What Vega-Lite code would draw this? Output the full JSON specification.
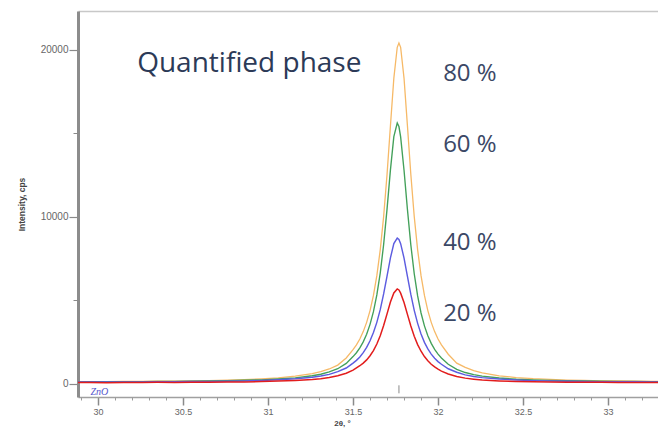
{
  "$schema": "https://vega.github.io/schema/vega-lite/v6.json",
  "width": 580,
  "height": 386,
  "autosize": {"type": "none"},
  "padding": {"left": 78, "top": 11, "right": 0, "bottom": 35},
  "background": "white",
  "config": {
    "view": {"stroke": null},
    "axis": {"labelFont": "Liberation Sans", "titleFont": "Liberation Sans", "grid": false}
  },
  "datasets": {
    "scan": [
      {"two_theta": 29.88, "20 %": 85, "40 %": 118, "60 %": 128, "80 %": 138},
      {"two_theta": 29.95, "20 %": 92, "40 %": 124, "60 %": 131, "80 %": 142},
      {"two_theta": 30.05, "20 %": 80, "40 %": 115, "60 %": 136, "80 %": 145},
      {"two_theta": 30.15, "20 %": 95, "40 %": 126, "60 %": 135, "80 %": 152},
      {"two_theta": 30.26, "20 %": 88, "40 %": 124, "60 %": 143, "80 %": 155},
      {"two_theta": 30.35, "20 %": 98, "40 %": 133, "60 %": 146, "80 %": 168},
      {"two_theta": 30.45, "20 %": 90, "40 %": 131, "60 %": 156, "80 %": 175},
      {"two_theta": 30.55, "20 %": 105, "40 %": 145, "60 %": 162, "80 %": 188},
      {"two_theta": 30.65, "20 %": 100, "40 %": 149, "60 %": 178, "80 %": 200},
      {"two_theta": 30.76, "20 %": 118, "40 %": 166, "60 %": 194, "80 %": 232},
      {"two_theta": 30.86, "20 %": 124, "40 %": 182, "60 %": 220, "80 %": 258},
      {"two_theta": 30.96, "20 %": 146, "40 %": 212, "60 %": 248, "80 %": 303},
      {"two_theta": 31.06, "20 %": 172, "40 %": 250, "60 %": 298, "80 %": 368},
      {"two_theta": 31.16, "20 %": 212, "40 %": 310, "60 %": 366, "80 %": 472},
      {"two_theta": 31.26, "20 %": 262, "40 %": 400, "60 %": 494, "80 %": 618},
      {"two_theta": 31.31, "20 %": 318, "40 %": 474, "60 %": 583, "80 %": 742},
      {"two_theta": 31.36, "20 %": 392, "40 %": 575, "60 %": 720, "80 %": 898},
      {"two_theta": 31.41, "20 %": 492, "40 %": 742, "60 %": 913, "80 %": 1130},
      {"two_theta": 31.46, "20 %": 645, "40 %": 955, "60 %": 1232, "80 %": 1560},
      {"two_theta": 31.5, "20 %": 832, "40 %": 1250, "60 %": 1640, "80 %": 2053},
      {"two_theta": 31.52, "20 %": 962, "40 %": 1415, "60 %": 1870, "80 %": 2341},
      {"two_theta": 31.54, "20 %": 1092, "40 %": 1620, "60 %": 2160, "80 %": 2695},
      {"two_theta": 31.56, "20 %": 1252, "40 %": 1875, "60 %": 2520, "80 %": 3136},
      {"two_theta": 31.58, "20 %": 1442, "40 %": 2190, "60 %": 2980, "80 %": 3689},
      {"two_theta": 31.6, "20 %": 1692, "40 %": 2585, "60 %": 3570, "80 %": 4396},
      {"two_theta": 31.62, "20 %": 2002, "40 %": 3080, "60 %": 4330, "80 %": 5304},
      {"two_theta": 31.64, "20 %": 2392, "40 %": 3690, "60 %": 5330, "80 %": 6486},
      {"two_theta": 31.66, "20 %": 2882, "40 %": 4450, "60 %": 6640, "80 %": 8031},
      {"two_theta": 31.68, "20 %": 3500, "40 %": 5390, "60 %": 8350, "80 %": 10032},
      {"two_theta": 31.7, "20 %": 4200, "40 %": 6460, "60 %": 10470, "80 %": 12546},
      {"two_theta": 31.72, "20 %": 4910, "40 %": 7550, "60 %": 12820, "80 %": 15462},
      {"two_theta": 31.74, "20 %": 5450, "40 %": 8410, "60 %": 14815, "80 %": 18305},
      {"two_theta": 31.76, "20 %": 5690, "40 %": 8740, "60 %": 15630, "80 %": 20162},
      {"two_theta": 31.77, "20 %": 5630, "40 %": 8655, "60 %": 15417, "80 %": 20420},
      {"two_theta": 31.78, "20 %": 5440, "40 %": 8400, "60 %": 14800, "80 %": 20162},
      {"two_theta": 31.8, "20 %": 4880, "40 %": 7540, "60 %": 12800, "80 %": 18305},
      {"two_theta": 31.82, "20 %": 4170, "40 %": 6440, "60 %": 10450, "80 %": 15462},
      {"two_theta": 31.84, "20 %": 3470, "40 %": 5360, "60 %": 8320, "80 %": 12546},
      {"two_theta": 31.86, "20 %": 2860, "40 %": 4410, "60 %": 6600, "80 %": 10032},
      {"two_theta": 31.88, "20 %": 2360, "40 %": 3630, "60 %": 5270, "80 %": 8031},
      {"two_theta": 31.9, "20 %": 1960, "40 %": 2990, "60 %": 4250, "80 %": 6486},
      {"two_theta": 31.92, "20 %": 1640, "40 %": 2490, "60 %": 3480, "80 %": 5304},
      {"two_theta": 31.94, "20 %": 1390, "40 %": 2100, "60 %": 2890, "80 %": 4396},
      {"two_theta": 31.96, "20 %": 1180, "40 %": 1790, "60 %": 2430, "80 %": 3689},
      {"two_theta": 31.98, "20 %": 1020, "40 %": 1540, "60 %": 2070, "80 %": 3136},
      {"two_theta": 32.0, "20 %": 890, "40 %": 1340, "60 %": 1790, "80 %": 2695},
      {"two_theta": 32.02, "20 %": 770, "40 %": 1180, "60 %": 1560, "80 %": 2341},
      {"two_theta": 32.06, "20 %": 600, "40 %": 910, "60 %": 1180, "80 %": 1780},
      {"two_theta": 32.11, "20 %": 450, "40 %": 700, "60 %": 870, "80 %": 1250},
      {"two_theta": 32.16, "20 %": 350, "40 %": 545, "60 %": 685, "80 %": 990},
      {"two_theta": 32.21, "20 %": 290, "40 %": 450, "60 %": 560, "80 %": 800},
      {"two_theta": 32.26, "20 %": 240, "40 %": 380, "60 %": 470, "80 %": 670},
      {"two_theta": 32.36, "20 %": 185, "40 %": 295, "60 %": 355, "80 %": 490},
      {"two_theta": 32.46, "20 %": 150, "40 %": 240, "60 %": 285, "80 %": 385},
      {"two_theta": 32.56, "20 %": 130, "40 %": 202, "60 %": 242, "80 %": 315},
      {"two_theta": 32.66, "20 %": 118, "40 %": 178, "60 %": 212, "80 %": 270},
      {"two_theta": 32.76, "20 %": 110, "40 %": 160, "60 %": 193, "80 %": 235},
      {"two_theta": 32.86, "20 %": 104, "40 %": 150, "60 %": 176, "80 %": 210},
      {"two_theta": 32.96, "20 %": 98, "40 %": 141, "60 %": 164, "80 %": 190},
      {"two_theta": 33.06, "20 %": 95, "40 %": 135, "60 %": 154, "80 %": 178},
      {"two_theta": 33.16, "20 %": 92, "40 %": 130, "60 %": 147, "80 %": 168},
      {"two_theta": 33.26, "20 %": 88, "40 %": 126, "60 %": 141, "80 %": 160},
      {"two_theta": 33.31, "20 %": 90, "40 %": 125, "60 %": 139, "80 %": 158}
    ],
    "phaseLabels": [
      {"phase": "80 %", "two_theta": 32.03, "cps": 18144},
      {"phase": "60 %", "two_theta": 32.03, "cps": 13892},
      {"phase": "40 %", "two_theta": 32.03, "cps": 8024},
      {"phase": "20 %", "two_theta": 32.03, "cps": 3772}
    ],
    "heading": [
      {"text": "Quantified phase", "two_theta": 30.23, "cps": 18683}
    ],
    "refLines": [
      {"phase": "ZnO", "two_theta": 31.77, "label_at": 29.955}
    ]
  },
  "layer": [
    {
      "data": {"name": "scan"},
      "transform": [
        {"fold": ["80 %", "60 %", "40 %", "20 %"], "as": ["phase", "cps"]}
      ],
      "mark": {"type": "line", "interpolate": "linear", "clip": true},
      "encoding": {
        "x": {
          "field": "two_theta",
          "type": "quantitative",
          "scale": {"domain": [29.882, 33.294], "nice": false, "zero": false},
          "axis": {
            "orient": "bottom",
            "values": [30, 30.5, 31, 31.5, 32, 32.5, 33],
            "format": "~g",
            "tickSize": 8,
            "tickWidth": 1.5,
            "tickColor": "#8a8a8a",
            "domainColor": "#a0a0a0",
            "domainWidth": 1.5,
            "labelFontSize": 9,
            "labelColor": "#666666",
            "labelPadding": 2,
            "labelFlush": false,
            "title": "2θ, °",
            "titleFontSize": 8,
            "titleFontWeight": "bold",
            "titleColor": "#444444",
            "titleX": 264,
            "titleY": 26,
            "titleBaseline": "middle"
          }
        },
        "y": {
          "field": "cps",
          "type": "quantitative",
          "scale": {"domain": [-780, 22335], "nice": false, "zero": false},
          "axis": {
            "orient": "left",
            "values": [0, 10000, 20000],
            "format": "d",
            "tickSize": 9,
            "tickWidth": 1.2,
            "tickColor": "#8a8a8a",
            "domainColor": "#8c8c8c",
            "domainWidth": 3,
            "labelFontSize": 10,
            "labelColor": "#666666",
            "labelPadding": 1,
            "title": "Intensity, cps",
            "titleFontSize": 8.5,
            "titleFontWeight": "bold",
            "titleColor": "#444444",
            "titlePadding": 14
          }
        },
        "color": {
          "field": "phase",
          "type": "nominal",
          "scale": {
            "domain": ["80 %", "60 %", "40 %", "20 %"],
            "range": ["#f6b967", "#43a05a", "#5c5ce0", "#e21d1d"]
          },
          "legend": null
        },
        "strokeWidth": {
          "field": "phase",
          "type": "nominal",
          "scale": {
            "domain": ["80 %", "60 %", "40 %", "20 %"],
            "range": [1.3, 1.5, 1.5, 2.2]
          },
          "legend": null
        }
      }
    },
    {
      "mark": {"type": "rule", "color": "#9a9a9a", "strokeWidth": 1},
      "encoding": {"y": {"datum": 0, "axis": null}}
    },
    {
      "data": {"name": "refLines"},
      "mark": {"type": "rule", "color": "#8a8a8a", "strokeWidth": 1},
      "encoding": {
        "x": {
          "field": "two_theta",
          "type": "quantitative",
          "axis": {
            "orient": "bottom",
            "values": [29.9, 30.1, 30.2, 30.3, 30.4, 30.6, 30.7, 30.8, 30.9, 31.1, 31.2, 31.3, 31.4, 31.6, 31.7, 31.8, 31.9, 32.1, 32.2, 32.3, 32.4, 32.6, 32.7, 32.8, 32.9, 33.1, 33.2],
            "tickSize": 3,
            "tickColor": "#9a9a9a",
            "labels": false,
            "domain": false,
            "title": null
          }
        },
        "y": {"datum": -80, "axis": null},
        "y2": {"datum": -560}
      }
    },
    {
      "data": {"name": "refLines"},
      "mark": {"type": "text", "align": "left", "baseline": "middle", "font": "Liberation Serif", "fontStyle": "italic", "fontSize": 10, "color": "#5555cc"},
      "encoding": {
        "x": {"field": "label_at", "type": "quantitative", "axis": null},
        "y": {"datum": -470, "axis": null},
        "text": {"field": "phase"}
      }
    },
    {
      "data": {"name": "heading"},
      "mark": {"type": "text", "align": "left", "baseline": "alphabetic", "font": "Open Sans", "fontSize": 28, "color": "#2c3a57"},
      "encoding": {
        "x": {
          "field": "two_theta",
          "type": "quantitative",
          "axis": {"orient": "top", "ticks": false, "labels": false, "title": null, "domainColor": "#c8c8c8", "domainWidth": 1.5}
        },
        "y": {"field": "cps", "type": "quantitative", "axis": null},
        "text": {"field": "text"}
      }
    },
    {
      "data": {"name": "phaseLabels"},
      "mark": {"type": "text", "align": "left", "baseline": "alphabetic", "font": "Open Sans", "fontSize": 24, "color": "#3b4866"},
      "encoding": {
        "x": {"field": "two_theta", "type": "quantitative", "axis": null},
        "y": {
          "field": "cps",
          "type": "quantitative",
          "axis": {"orient": "left", "values": [5000, 15000], "tickSize": 5, "tickColor": "#8a8a8a", "labels": false, "domain": false, "title": null}
        },
        "text": {"field": "phase"}
      }
    }
  ],
  "resolve": {"axis": {"x": "independent", "y": "independent"}}
}
